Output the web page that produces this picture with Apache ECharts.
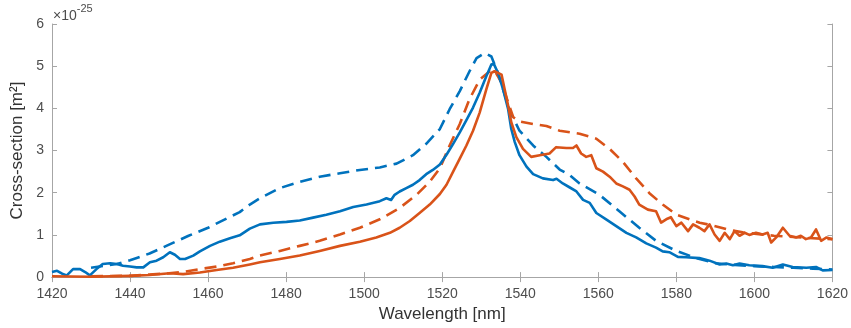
<!DOCTYPE html>
<html>
<head>
<meta charset="utf-8">
<script src="https://cdn.jsdelivr.net/npm/echarts@6/dist/echarts.min.js"></script>
<style>
html,body{margin:0;padding:0;background:#fff;}
#chart{width:851px;height:328px;}
</style>
</head>
<body>
<div id="chart"></div>
<script>
// Axis ticks
var xTicks = [1420, 1440, 1460, 1480, 1500, 1520, 1540, 1560, 1580, 1600, 1620];
var yTicks = [0, 1, 2, 3, 4, 5, 6];

// Blue solid
var blueSolidWl = [1420,1421.3,1422.6,1423.8,1425.4,1427.2,1428.5,1429.7,1431.4,1433,1434.9,1436.6,1438.2,1440,1441.7,1443.4,1445.1,1446.8,1448.5,1450.2,1451.5,1452.8,1454.1,1456.2,1457.9,1460.5,1463,1465.6,1468.1,1470.7,1473.3,1476.7,1480.1,1483.5,1486.9,1490.3,1493.8,1497.2,1500.6,1504,1505.7,1506.9,1507.8,1509.1,1510.8,1512.5,1514.2,1515.9,1517.6,1519.4,1521.1,1522.8,1524.5,1526.2,1527.9,1529.6,1531.3,1532.6,1533.2,1534.3,1535.6,1536.9,1537.7,1538.6,1539.8,1541.6,1543.3,1545.8,1548.4,1549.3,1550.9,1552.6,1554.4,1556.1,1557.8,1559.5,1562,1564.6,1567.2,1569.7,1572.3,1574.8,1576.5,1578.2,1580.4,1582.5,1585.9,1588.5,1591.1,1592.8,1594.5,1596.2,1598.7,1602.1,1604.7,1607.3,1609.8,1613.3,1615.8,1617.5,1620];
var blueSolidVal = [0.12,0.15,0.08,0.04,0.19,0.19,0.12,0.04,0.19,0.31,0.33,0.31,0.27,0.25,0.23,0.23,0.35,0.39,0.47,0.59,0.53,0.43,0.43,0.51,0.61,0.74,0.84,0.92,0.99,1.15,1.25,1.29,1.31,1.34,1.41,1.48,1.56,1.66,1.72,1.80,1.87,1.83,1.95,2.03,2.11,2.19,2.30,2.44,2.54,2.67,2.90,3.16,3.43,3.72,4.02,4.37,4.76,5.04,5.06,4.84,4.45,3.98,3.51,3.20,2.89,2.62,2.44,2.34,2.30,2.33,2.22,2.13,2.03,1.83,1.76,1.52,1.37,1.21,1.05,0.94,0.80,0.70,0.61,0.59,0.48,0.47,0.45,0.39,0.30,0.32,0.28,0.32,0.28,0.26,0.22,0.30,0.24,0.22,0.24,0.16,0.17];

// Blue dashed
var blueDashWl = [1430,1436.6,1440,1445,1450,1455,1460,1465,1468.1,1470.7,1473.3,1478.4,1483.5,1488.6,1493.8,1498.9,1504,1508.3,1512.5,1515.9,1519.4,1521.9,1524.5,1527,1528.8,1530.9,1532.6,1534.3,1535.6,1537.3,1539.8,1543.3,1546.7,1550.1,1552.6,1555.2,1560.3,1565.4,1570.5,1574.8,1580,1585.1,1590,1595,1600,1605,1610,1615,1620];
var blueDashVal = [0.22,0.31,0.40,0.56,0.77,0.98,1.17,1.40,1.54,1.72,1.87,2.11,2.26,2.38,2.46,2.54,2.60,2.69,2.89,3.16,3.51,3.98,4.41,4.88,5.19,5.31,5.23,4.84,4.45,3.94,3.47,3.12,2.85,2.55,2.42,2.22,1.95,1.56,1.17,0.86,0.62,0.45,0.33,0.29,0.26,0.24,0.22,0.20,0.18];

// Orange solid
var orangeSolidWl = [1420,1430,1440,1445,1450.2,1453.6,1457.9,1462.2,1466.4,1470.7,1473.3,1478.4,1483.5,1488.6,1493.8,1498.9,1503.1,1506.6,1509.1,1511.7,1514.2,1516.8,1519.4,1521.1,1522.8,1524.5,1526.2,1527.9,1529.6,1531.3,1532.6,1533.4,1535.2,1536,1536.9,1537.7,1539,1540.7,1542.8,1545,1547.5,1549.2,1551.8,1553.5,1554.4,1555.6,1556.9,1558.2,1559.5,1561.2,1562.9,1564.6,1566.3,1568,1569.3,1570.5,1572.7,1574.8,1576.1,1577.4,1578.6,1580,1581.3,1583,1584.3,1585.9,1587.2,1588.5,1589.8,1591.1,1592.4,1593.7,1594.9,1596.2,1597.5,1598.7,1600.4,1602.1,1603.4,1604.3,1605.6,1607.3,1609,1610.7,1611.9,1613.2,1614.5,1615.8,1617.1,1618.5,1620];
var orangeSolidVal = [0.02,0.01,0.03,0.05,0.09,0.07,0.11,0.17,0.22,0.30,0.35,0.43,0.51,0.62,0.74,0.84,0.94,1.05,1.17,1.33,1.52,1.72,1.97,2.19,2.50,2.81,3.12,3.47,3.90,4.45,4.84,4.88,4.80,4.45,4.06,3.67,3.32,3.04,2.85,2.89,2.93,3.08,3.06,3.06,3.12,2.93,2.85,2.89,2.58,2.50,2.38,2.22,2.15,2.07,1.91,1.72,1.60,1.56,1.29,1.37,1.42,1.21,1.29,1.09,1.25,1.17,1.09,1.25,1.01,0.86,1.05,0.90,1.09,0.98,1.05,1.00,1.05,1.01,1.05,0.82,0.94,1.17,0.98,0.94,0.98,0.90,0.94,1.13,0.86,0.94,0.90];

// Orange dashed
var orangeDashWl = [1430,1440,1445,1450,1453.6,1457.9,1462.2,1466.4,1470.7,1473.3,1478.4,1483.5,1488.6,1493.8,1498.9,1504,1509.1,1513.4,1516.8,1519.4,1521.9,1524.5,1527,1529.6,1532.2,1533.4,1535.2,1536.9,1538.2,1539.8,1543.3,1546.7,1550.1,1555.2,1559.5,1562.9,1566.3,1569.7,1573.1,1576.5,1580,1583.4,1586,1589,1593.6,1597,1600,1605,1610,1615,1620];
var orangeDashVal = [0.02,0.03,0.06,0.09,0.12,0.19,0.25,0.33,0.43,0.51,0.62,0.74,0.86,1.01,1.17,1.37,1.64,1.95,2.26,2.58,3.12,3.63,4.22,4.68,4.88,4.90,4.61,4.14,3.79,3.69,3.63,3.58,3.47,3.40,3.28,3.04,2.73,2.34,1.99,1.72,1.48,1.37,1.29,1.23,1.12,1.06,1.03,0.98,0.95,0.92,0.90];

function pairs(xs, ys) { return xs.map(function (x, i) { return [x, ys[i]]; }); }

var BLUE = '#0072BD', ORANGE = '#D95319';
var AXIS = '#a6a6a6', TEXT = '#4d4d4d';
var FONT = '"Liberation Sans", Arial, sans-serif';

var chart = echarts.init(document.getElementById('chart'), null, { renderer: 'canvas' });

function lineSeries(name, data, color, dashed, z) {
  return {
    name: name, type: 'line', data: data, showSymbol: false, symbol: 'none',
    xAxisIndex: 0, yAxisIndex: 0, z: z,
    lineStyle: { color: color, width: 2.6, type: dashed ? [12, 7] : 'solid', cap: 'butt', join: 'round' },
    emphasis: { disabled: true }
  };
}

var option = {
  animation: false,
  backgroundColor: '#fff',
  grid: { left: 52, right: 18, top: 24, bottom: 48 },
  xAxis: [{
    type: 'value', min: xTicks[0], max: xTicks[xTicks.length - 1], interval: 20,
    name: 'Wavelength [nm]', nameLocation: 'middle', nameGap: 28,
    nameTextStyle: { color: '#333', fontSize: 17, fontFamily: FONT },
    axisLine: { show: true, lineStyle: { color: AXIS, width: 1 } },
    axisTick: { show: true, inside: true, length: 5, lineStyle: { color: AXIS } },
    axisLabel: { color: TEXT, fontSize: 14, fontFamily: FONT, margin: 10, formatter: function (v) { return String(v); } },
    splitLine: { show: false }
  }, {
    type: 'value', position: 'top', min: xTicks[0], max: xTicks[xTicks.length - 1], interval: 20,
    axisLine: { show: true, lineStyle: { color: AXIS, width: 1 } },
    axisTick: { show: true, inside: true, length: 5, lineStyle: { color: AXIS } },
    axisLabel: { show: false }, splitLine: { show: false }
  }],
  yAxis: [{
    type: 'value', min: yTicks[0], max: yTicks[yTicks.length - 1], interval: 1,
    name: 'Cross-section [m\u00B2]', nameLocation: 'middle', nameGap: 19, nameRotate: 90,
    nameTextStyle: { color: '#333', fontSize: 17, fontFamily: FONT },
    axisLine: { show: true, lineStyle: { color: AXIS, width: 1 } },
    axisTick: { show: true, inside: true, length: 5, lineStyle: { color: AXIS } },
    axisLabel: { color: TEXT, fontSize: 14, fontFamily: FONT, margin: 8 },
    splitLine: { show: false }
  }, {
    type: 'value', position: 'right', min: yTicks[0], max: yTicks[yTicks.length - 1], interval: 1,
    axisLine: { show: true, lineStyle: { color: AXIS, width: 1 } },
    axisTick: { show: true, inside: true, length: 5, lineStyle: { color: AXIS } },
    axisLabel: { show: false }, splitLine: { show: false }
  }],
  graphic: [{
    type: 'text', left: 53, top: 3,
    style: {
      text: '{a|\u00D710}{b|-25}',
      rich: {
        a: { fontSize: 14, fontFamily: FONT, fill: TEXT, verticalAlign: 'bottom', lineHeight: 20 },
        b: { fontSize: 11, fontFamily: FONT, fill: TEXT, verticalAlign: 'top', lineHeight: 20, padding: [0, 0, 8, 0] }
      }
    }
  }],
  series: [
    lineSeries('Blue dashed', pairs(blueDashWl, blueDashVal), BLUE, true, 2),
    lineSeries('Orange dashed', pairs(orangeDashWl, orangeDashVal), ORANGE, true, 2),
    lineSeries('Blue solid', pairs(blueSolidWl, blueSolidVal), BLUE, false, 3),
    lineSeries('Orange solid', pairs(orangeSolidWl, orangeSolidVal), ORANGE, false, 3)
  ]
};
chart.setOption(option);
</script>
</body>
</html>
